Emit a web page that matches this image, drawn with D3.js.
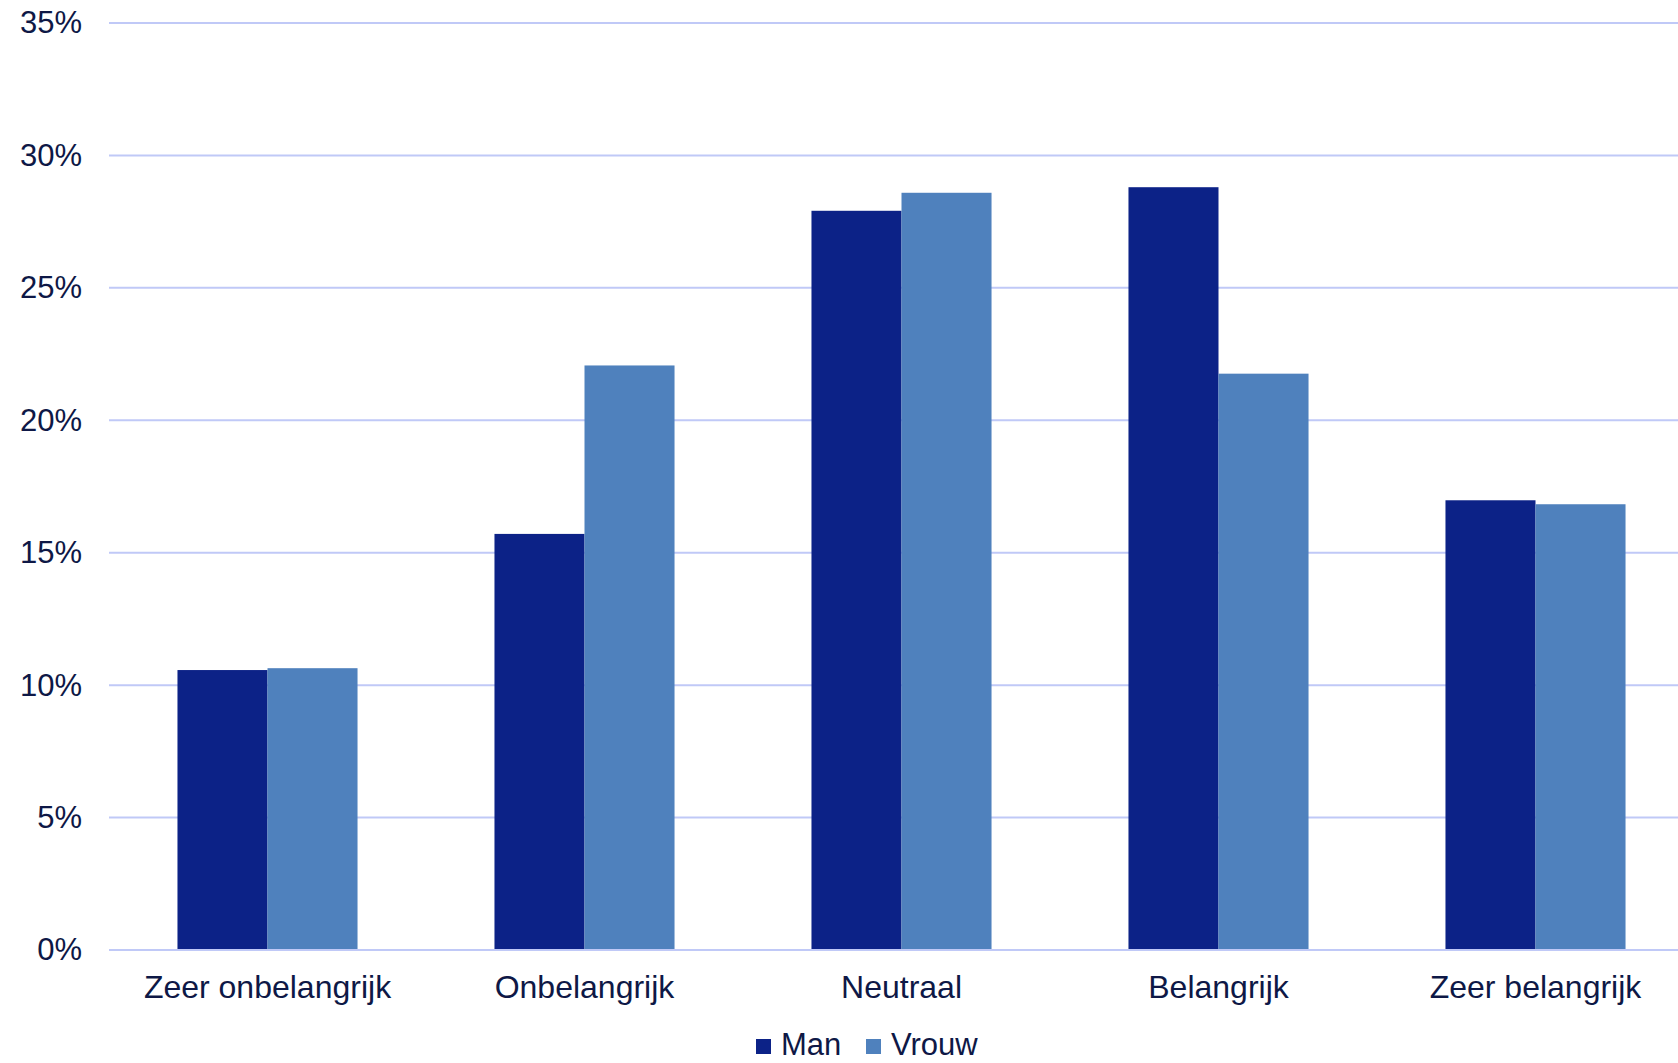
<!DOCTYPE html>
<html>
<head>
<meta charset="utf-8">
<script src="https://cdn.jsdelivr.net/npm/d3@7/dist/d3.min.js"></script>
<style>
  html, body { margin: 0; padding: 0; background: #ffffff; overflow: hidden; }
  svg { display: block; font-family: "Liberation Sans", Arial, sans-serif; }
</style>
</head>
<body>
<svg id="chart" width="1678" height="1063"></svg>
<script>
const categories = ["Zeer onbelangrijk", "Onbelangrijk", "Neutraal", "Belangrijk", "Zeer belangrijk"];
const seriesNames = ["Man", "Vrouw"];
const manValues = [10.57, 15.71, 27.91, 28.80, 16.98];
const vrouwValues = [10.64, 22.07, 28.59, 21.76, 16.83];
const yTicks = [0, 5, 10, 15, 20, 25, 30, 35];
const colors = ["#0c2287", "#4f81bd"];

const svg = d3.select("#chart");
const W = 1678, H = 1063;
const plotLeft = 109, plotRight = 1694, plotTop = 23, plotBottom = 950;
const textColor = "#0e1846";
const gridColor = "#c0c9f7";

const x0 = d3.scaleBand().domain(categories).range([plotLeft, plotRight])
  .paddingInner(0.432).paddingOuter(0.216);
const x1 = d3.scaleBand().domain(seriesNames).range([0, x0.bandwidth()]).padding(0);
const y = d3.scaleLinear().domain([0, 35]).range([plotBottom, plotTop]);

// gridlines
svg.append("g").selectAll("line").data(yTicks).join("line")
  .attr("x1", plotLeft).attr("x2", W)
  .attr("y1", d => y(d)).attr("y2", d => y(d))
  .attr("stroke", gridColor).attr("stroke-width", 2);

// y axis labels
const yAxis = d3.axisLeft(y).tickValues(yTicks).tickFormat(d => d + "%").tickSize(0).tickPadding(0);
const yg = svg.append("g").attr("transform", `translate(${plotLeft - 27},0)`).call(yAxis);
yg.select(".domain").remove();
yg.selectAll("text").attr("fill", textColor).style("font-size", "31px")
  .attr("font-family", "'Liberation Sans', Arial, sans-serif");

// bars
const rows = categories.map((c, i) => ({ cat: c, values: [manValues[i], vrouwValues[i]] }));
const groups = svg.append("g").selectAll("g").data(rows).join("g")
  .attr("transform", d => `translate(${x0(d.cat)},0)`);
groups.selectAll("rect").data(d => d.values.map((v, j) => ({ key: seriesNames[j], v, j })))
  .join("rect")
  .attr("x", d => x1(d.key))
  .attr("width", x1.bandwidth() + (d => 0)())
  .attr("y", d => y(d.v))
  .attr("height", d => y(0) - y(d.v) - 1)
  .attr("fill", d => colors[d.j]);

// x axis labels
const xAxis = d3.axisBottom(x0).tickSize(0).tickPadding(0);
const xg = svg.append("g").attr("transform", `translate(0,${plotBottom})`).call(xAxis);
xg.select(".domain").remove();
xg.selectAll("text").attr("fill", textColor).style("font-size", "32px")
  .attr("dy", null).attr("y", 48)
  .attr("font-family", "'Liberation Sans', Arial, sans-serif");

// legend
const legendX = [756, 866];
const legend = svg.append("g").selectAll("g").data(seriesNames).join("g")
  .attr("transform", (d, i) => `translate(${legendX[i]},1039)`);
legend.append("rect").attr("width", 15).attr("height", 15).attr("fill", (d, i) => colors[i]);
legend.append("text").attr("x", 25).attr("y", 16)
  .attr("fill", textColor).style("font-size", "31px").text(d => d);
</script>
</body>
</html>
